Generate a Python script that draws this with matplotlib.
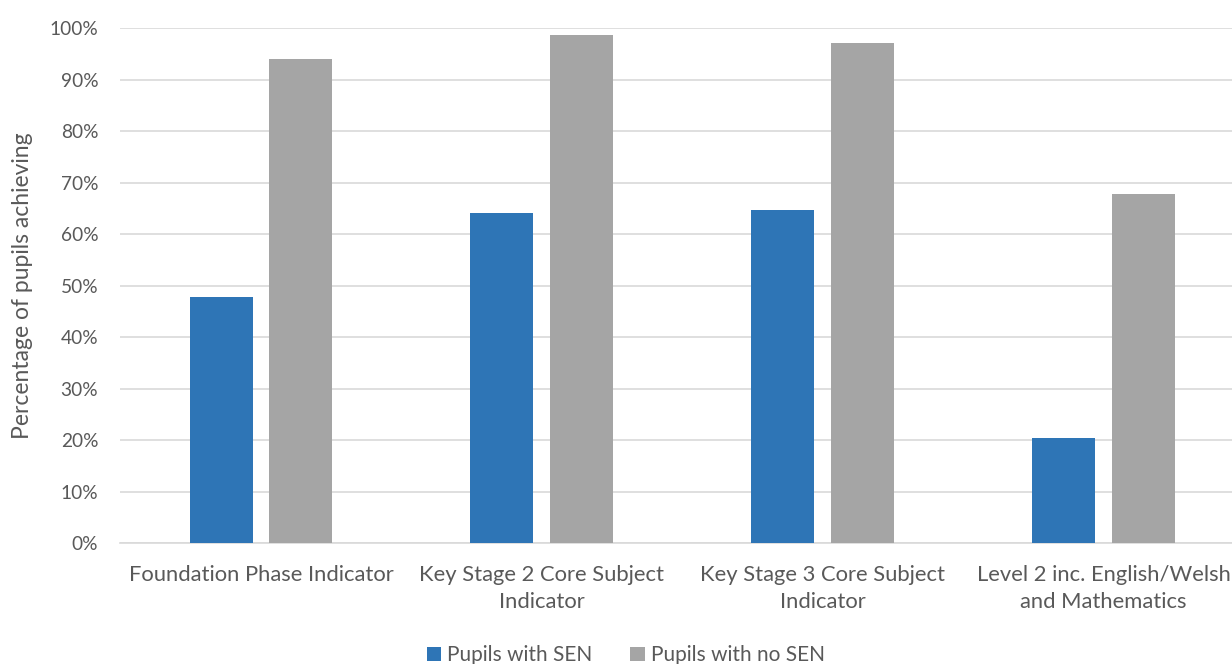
import matplotlib
matplotlib.use("Agg")
import matplotlib.pyplot as plt
from matplotlib.ticker import PercentFormatter
import numpy as np

# data
categories = ["Foundation Phase Indicator",
              "Key Stage 2 Core Subject\nIndicator",
              "Key Stage 3 Core Subject\nIndicator",
              "Level 2 inc. English/Welsh\nand Mathematics"]
sen = [47.8, 64.1, 64.7, 20.4]
no_sen = [94.0, 98.6, 97.1, 67.8]
series_names = ["Pupils with SEN", "Pupils with no SEN"]

plt.rcParams['font.family'] = ['Lato', 'DejaVu Sans']
TXT = "#595959"

fig = plt.figure(figsize=(12.32, 6.64), dpi=100)
ax = fig.add_axes([0.0978, 0.1822, 0.912, 0.7756])

x = np.arange(len(categories))
w = 0.224
ax.bar(x - 0.142, sen, w, color="#2E75B6", label=series_names[0], zorder=3)
ax.bar(x + 0.142, no_sen, w, color="#A5A5A5", label=series_names[1], zorder=3)

ax.set_xlim(-0.5, 3.5)
ax.set_ylim(0, 100)
ax.set_yticks(np.arange(0, 101, 10))
ax.yaxis.set_major_formatter(PercentFormatter(decimals=0))
ax.grid(axis="y", color="#D9D9D9", linewidth=1.2, zorder=0)
for s in ["top", "right", "left"]:
    ax.spines[s].set_visible(False)
ax.spines["bottom"].set_color("#D9D9D9")
ax.spines["bottom"].set_linewidth(1.2)

ax.set_xticks(x)
ax.set_xticklabels(categories, fontsize=15.8, color=TXT, linespacing=1.4)
ax.tick_params(axis="x", length=0, pad=16)
ax.tick_params(axis="y", length=0, labelsize=13.8, labelcolor=TXT, pad=16)
ax.set_ylabel("Percentage of pupils achieving", fontsize=16.5, color=TXT, labelpad=12)

leg = fig.legend(loc="lower center", bbox_to_anchor=(0.508, -0.03), ncol=2, frameon=False,
                 fontsize=15, handlelength=0.7, handleheight=0.7, columnspacing=1.8,
                 handletextpad=0.3)
for t in leg.get_texts():
    t.set_color(TXT)

fig.savefig("out.png", dpi=100)
